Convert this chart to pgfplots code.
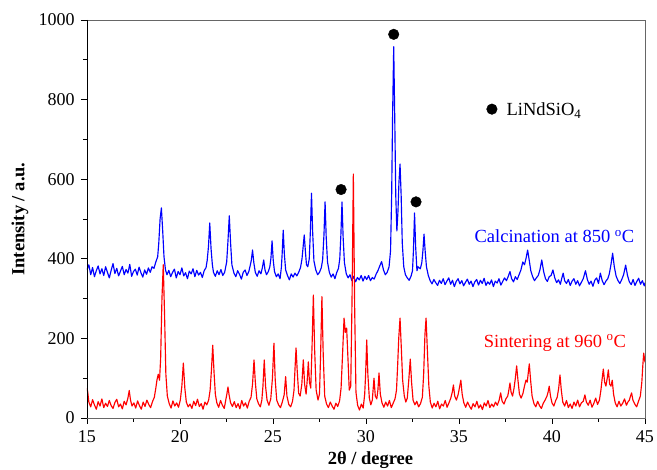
\documentclass[border=0pt]{standalone}
\usepackage{fontspec}
\setmainfont{Liberation Serif}
\usepackage{pgfplots}
\pgfplotsset{compat=1.18}
\begin{document}
\fontsize{18.5}{22}\selectfont
\begin{tikzpicture}
\begin{axis}[
 at={(0,0)}, anchor=south west, scale only axis, width=558pt, height=398pt,
 xmin=15, xmax=45, ymin=0, ymax=1000,
 xtick={15,20,...,45}, ytick={0,200,...,1000},
 minor x tick num=1, minor y tick num=1,
 tick pos=left, tick align=outside,
 major tick length=6pt, minor tick length=4pt,
 tick style={black, line width=0.8pt},
 axis line style={black!60, line width=0.8pt},
 /pgf/number format/assume math mode=true,
 /pgf/number format/set thousands separator={},
 ticklabel style={font=\fontsize{18}{20}\selectfont},
 xlabel={\textbf{2θ / degree}},
 ylabel={\textbf{Intensity / a.u.}},
 every axis x label/.style={at={(axis description cs:0.508,0)}, anchor=base, yshift=-47pt},
 every axis y label/.style={at={(axis description cs:-0.12,0.5)}, anchor=center, rotate=90},
]
\addplot[blue, line width=1.15pt, line join=round] coordinates {
(15.0,372)(15.1,385)(15.2,360)(15.3,378)(15.4,355)(15.5,370)(15.6,382)(15.7,362)(15.8,375)(15.9,358)
(16.0,380)(16.1,366)(16.2,352)(16.3,371)(16.4,388)(16.5,363)(16.6,376)(16.7,357)(16.8,369)(16.9,381)
(17.0,360)(17.1,373)(17.2,364)(17.3,386)(17.4,356)(17.5,368)(17.6,374)(17.7,359)(17.8,379)(17.9,365)
(18.0,354)(18.1,372)(18.2,361)(18.3,377)(18.4,366)(18.5,380)(18.6,376)(18.7,392)(18.8,405)(18.86,440)
(18.93,500)(19.0,528)(19.07,470)(19.14,405)(19.22,372)(19.3,360)(19.4,371)(19.5,355)(19.6,366)(19.7,374)
(19.8,352)(19.9,368)(20.0,360)(20.1,377)(20.2,357)(20.3,365)(20.4,350)(20.5,369)(20.6,362)(20.7,375)
(20.8,355)(20.9,371)(21.0,359)(21.1,366)(21.2,353)(21.3,370)(21.4,378)(21.46,395)(21.53,430)(21.6,490)
(21.67,425)(21.74,385)(21.8,366)(21.9,356)(22.0,370)(22.1,360)(22.2,373)(22.3,358)(22.4,366)(22.51,392)
(22.58,445)(22.65,508)(22.72,440)(22.79,385)(22.9,364)(23.0,355)(23.1,370)(23.2,361)(23.3,349)(23.4,366)
(23.5,372)(23.6,358)(23.7,368)(23.76,380)(23.83,395)(23.9,422)(23.97,390)(24.05,366)(24.15,356)(24.25,370)
(24.35,362)(24.43,378)(24.5,397)(24.57,372)(24.65,360)(24.75,368)(24.83,380)(24.89,402)(24.95,445)(25.01,398)
(25.08,368)(25.18,355)(25.28,362)(25.38,350)(25.45,378)(25.49,410)(25.55,472)(25.61,412)(25.68,372)(25.78,358)
(25.88,347)(25.98,362)(26.08,354)(26.18,364)(26.28,357)(26.38,366)(26.48,378)(26.56,400)(26.62,430)(26.68,460)
(26.74,420)(26.8,385)(26.87,380)(26.95,400)(27.01,470)(27.07,565)(27.13,470)(27.2,395)(27.3,372)(27.4,360)
(27.5,366)(27.6,378)(27.67,398)(27.74,460)(27.8,543)(27.86,455)(27.93,392)(28.03,366)(28.13,354)(28.23,362)
(28.33,350)(28.43,366)(28.52,376)(28.59,400)(28.65,460)(28.71,543)(28.77,455)(28.84,390)(28.94,362)(29.04,352)
(29.14,360)(29.24,345)(29.34,356)(29.44,342)(29.54,353)(29.64,347)(29.74,358)(29.84,344)(29.94,356)(30.04,348)
(30.14,358)(30.24,345)(30.34,353)(30.44,349)(30.54,361)(30.64,370)(30.74,382)(30.84,393)(30.94,372)(31.04,360)
(31.14,366)(31.24,380)(31.32,420)(31.38,560)(31.43,760)(31.49,933)(31.55,740)(31.6,560)(31.66,470)(31.72,520)
(31.77,590)(31.83,638)(31.89,560)(31.95,440)(32.03,380)(32.12,360)(32.22,352)(32.32,346)(32.42,356)(32.5,370)
(32.55,420)(32.61,515)(32.67,430)(32.74,370)(32.8,380)(32.92,375)(33.0,390)(33.06,420)(33.12,462)(33.18,420)
(33.25,380)(33.35,358)(33.45,345)(33.55,337)(33.65,348)(33.75,340)(33.85,333)(33.95,346)(34.05,338)(34.15,350)
(34.25,335)(34.35,344)(34.45,352)(34.55,336)(34.65,346)(34.75,330)(34.85,343)(34.95,350)(35.05,337)(35.15,345)
(35.25,332)(35.35,341)(35.45,349)(35.55,336)(35.65,344)(35.75,330)(35.85,342)(35.95,348)(36.05,334)(36.15,346)
(36.25,338)(36.35,351)(36.45,333)(36.55,342)(36.65,336)(36.75,347)(36.85,330)(36.95,344)(37.05,339)(37.15,350)
(37.25,334)(37.35,343)(37.45,352)(37.55,345)(37.65,356)(37.74,368)(37.83,350)(37.93,342)(38.03,355)(38.13,348)
(38.23,360)(38.33,372)(38.43,392)(38.52,385)(38.6,400)(38.69,422)(38.78,395)(38.86,370)(38.96,355)(39.06,345)
(39.16,352)(39.26,358)(39.35,372)(39.45,397)(39.55,368)(39.65,350)(39.75,343)(39.85,355)(39.95,358)(40.05,372)
(40.15,352)(40.25,340)(40.35,347)(40.45,336)(40.52,350)(40.6,364)(40.68,345)(40.78,338)(40.88,348)(40.98,333)
(41.08,344)(41.18,350)(41.28,336)(41.38,345)(41.48,332)(41.58,341)(41.68,350)(41.8,370)(41.9,348)(42.0,336)
(42.1,344)(42.2,331)(42.3,346)(42.4,352)(42.5,338)(42.6,364)(42.7,345)(42.8,335)(42.9,344)(43.0,350)
(43.08,362)(43.17,385)(43.26,414)(43.35,380)(43.45,356)(43.55,345)(43.65,338)(43.75,348)(43.85,360)(43.96,384)
(44.06,358)(44.16,342)(44.26,335)(44.36,348)(44.46,333)(44.56,343)(44.66,351)(44.76,336)(44.86,345)(44.96,332)
(45.0,340)
};
\addplot[red, line width=1.15pt, line join=round] coordinates {
(15.0,75)(15.04,65)(15.1,40)(15.2,28)(15.3,46)(15.4,33)(15.5,22)(15.6,41)(15.7,30)(15.8,48)
(15.9,26)(16.0,37)(16.1,29)(16.2,44)(16.3,31)(16.4,24)(16.5,39)(16.6,47)(16.7,28)(16.8,35)
(16.9,23)(17.0,42)(17.1,33)(17.2,50)(17.27,69)(17.34,45)(17.42,30)(17.52,38)(17.62,25)(17.72,43)
(17.82,31)(17.92,22)(18.02,40)(18.12,29)(18.22,45)(18.32,34)(18.42,26)(18.52,41)(18.62,52)(18.7,75)
(18.76,95)(18.83,110)(18.9,95)(18.96,150)(19.03,300)(19.1,385)(19.17,260)(19.24,110)(19.32,55)(19.42,36)
(19.52,25)(19.62,43)(19.72,30)(19.82,38)(19.92,27)(20.02,46)(20.1,80)(20.18,138)(20.26,75)(20.34,40)
(20.44,28)(20.54,35)(20.64,24)(20.74,42)(20.84,31)(20.94,47)(21.04,29)(21.14,36)(21.24,22)(21.34,40)
(21.44,33)(21.54,45)(21.62,70)(21.69,120)(21.76,183)(21.83,115)(21.9,60)(21.98,38)(22.08,27)(22.18,44)
(22.28,32)(22.38,24)(22.46,45)(22.52,60)(22.58,78)(22.64,58)(22.72,38)(22.82,29)(22.92,41)(23.02,26)
(23.12,36)(23.22,23)(23.32,44)(23.42,30)(23.52,38)(23.62,25)(23.72,42)(23.82,52)(23.9,85)(23.98,146)
(24.05,90)(24.13,48)(24.22,36)(24.32,28)(24.4,45)(24.46,80)(24.53,146)(24.6,80)(24.68,45)(24.78,32)
(24.88,48)(24.97,100)(25.05,188)(25.12,95)(25.2,45)(25.3,33)(25.4,26)(25.5,40)(25.6,58)(25.68,104)
(25.75,55)(25.85,34)(25.95,28)(26.05,42)(26.13,70)(26.19,130)(26.24,176)(26.3,120)(26.38,62)(26.46,55)
(26.55,85)(26.63,146)(26.7,85)(26.78,60)(26.84,95)(26.9,141)(26.96,90)(27.03,75)(27.1,180)(27.17,309)
(27.24,170)(27.32,70)(27.42,45)(27.5,60)(27.56,160)(27.63,305)(27.7,160)(27.78,55)(27.88,35)(27.98,26)
(28.08,40)(28.18,30)(28.28,22)(28.38,37)(28.48,29)(28.58,43)(28.66,75)(28.74,160)(28.82,251)(28.89,215)
(28.96,226)(29.03,150)(29.1,70)(29.18,80)(29.25,300)(29.32,613)(29.39,280)(29.46,65)(29.55,32)(29.65,20)
(29.75,35)(29.85,25)(29.93,60)(29.98,110)(30.04,196)(30.1,110)(30.18,50)(30.26,33)(30.34,45)(30.43,100)
(30.5,55)(30.58,48)(30.64,70)(30.7,113)(30.77,60)(30.86,38)(30.96,27)(31.06,40)(31.16,30)(31.26,44)
(31.36,26)(31.46,37)(31.56,48)(31.64,70)(31.7,130)(31.76,200)(31.83,251)(31.9,175)(31.97,95)(32.06,55)
(32.14,40)(32.22,50)(32.3,95)(32.38,148)(32.45,90)(32.53,45)(32.63,33)(32.73,42)(32.83,28)(32.93,36)
(33.03,52)(33.1,110)(33.17,210)(33.23,251)(33.3,170)(33.38,80)(33.46,40)(33.56,25)(33.66,37)(33.76,28)
(33.86,42)(33.96,23)(34.06,35)(34.16,30)(34.26,44)(34.36,27)(34.46,38)(34.56,50)(34.64,65)(34.7,83)
(34.77,55)(34.86,45)(34.96,60)(35.04,80)(35.1,95)(35.17,60)(35.26,38)(35.36,27)(35.46,40)(35.56,30)
(35.66,22)(35.76,36)(35.86,28)(35.96,42)(36.06,25)(36.16,33)(36.26,21)(36.36,38)(36.46,30)(36.56,44)
(36.66,26)(36.76,35)(36.86,28)(36.96,40)(37.06,32)(37.16,45)(37.24,63)(37.32,42)(37.42,35)(37.52,48)
(37.62,55)(37.68,70)(37.74,88)(37.8,65)(37.88,55)(37.96,75)(38.03,100)(38.1,131)(38.17,95)(38.25,60)
(38.34,50)(38.44,62)(38.52,80)(38.6,95)(38.67,90)(38.74,120)(38.78,136)(38.85,95)(38.93,55)(39.03,36)
(39.13,28)(39.23,42)(39.33,31)(39.43,24)(39.53,37)(39.63,45)(39.73,55)(39.79,65)(39.85,80)(39.92,55)
(40.0,38)(40.1,30)(40.2,44)(40.28,52)(40.36,75)(40.43,108)(40.5,70)(40.58,40)(40.68,30)(40.78,44)
(40.88,26)(40.98,35)(41.08,24)(41.18,40)(41.28,30)(41.38,45)(41.48,28)(41.58,38)(41.68,42)(41.77,58)
(41.85,40)(41.95,32)(42.05,45)(42.15,27)(42.25,37)(42.35,50)(42.45,34)(42.55,45)(42.63,70)(42.7,100)
(42.76,123)(42.83,90)(42.9,80)(42.97,100)(43.03,121)(43.1,85)(43.17,80)(43.24,95)(43.31,60)(43.4,38)
(43.5,28)(43.6,42)(43.7,30)(43.8,37)(43.9,48)(44.0,32)(44.08,40)(44.16,45)(44.22,55)(44.28,63)
(44.35,45)(44.45,35)(44.55,28)(44.65,42)(44.75,55)(44.83,90)(44.88,130)(44.93,163)(44.97,150)(45.0,140)
};
\addplot[only marks, mark=*, mark size=5.3pt, black] coordinates {(31.49,964)(28.66,574)(32.69,543)(36.77,776)};
\node[anchor=base west, inner sep=0pt] at (axis cs:37.55,759) {LiNdSiO\textsubscript{4}};
\node[anchor=base, inner sep=0pt, text=blue] at (axis cs:40.13,440) {Calcination at 850 \textsuperscript{o}C};
\node[anchor=base, inner sep=0pt, text=red] at (axis cs:40.16,178) {Sintering at 960 \textsuperscript{o}C};
\draw[black, line width=0.8pt] (rel axis cs:0,1) -- (rel axis cs:0,0) -- (rel axis cs:1,0);
\end{axis}
\pgfresetboundingbox
\path[use as bounding box] (-87pt,-52pt) rectangle (570pt,418pt);
\end{tikzpicture}
\end{document}
